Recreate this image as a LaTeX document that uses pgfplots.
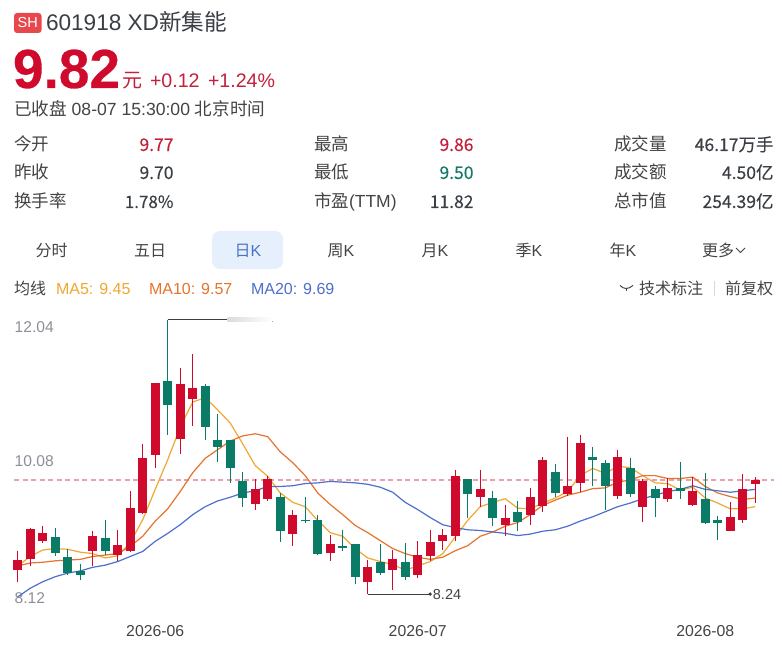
\documentclass[border=0pt]{standalone}
\usepackage{fontspec}
\usepackage{pgfplots}
\usepackage{pgfplotstable}
\pgfplotsset{compat=1.18}
\setmainfont{Liberation Sans}
\newfontfamily\cjk{Noto Sans CJK SC}
\newfontfamily\cjkm[FakeBold=0.25]{Noto Sans CJK SC}
\newfontfamily\bigb[FakeBold=0.5]{Liberation Sans Bold}
\definecolor{cred}{HTML}{CF0A2C}
\definecolor{cgreen}{HTML}{0A7B67}
\definecolor{tred}{HTML}{C4203C}
\definecolor{tgreen}{HTML}{167A68}
\definecolor{dark}{HTML}{3A3F45}
\definecolor{mid}{HTML}{444444}
\definecolor{axisgray}{HTML}{8E8E98}
\definecolor{mafive}{HTML}{F0A832}
\definecolor{maten}{HTML}{E6742C}
\definecolor{matwenty}{HTML}{4D70CC}
\definecolor{tabbg}{HTML}{E6F0FC}
\definecolor{tabfg}{HTML}{4A74C9}
\definecolor{dashc}{HTML}{EC9FAC}
\definecolor{badge}{HTML}{E8484C}
\pgfplotsset{candle/.style 2 args={draw=none,no markers,forget plot,error bars/.cd,y dir=minus,y explicit,error mark=none,error bar style={solid,draw=#1,line width=#2}}}
\pgfplotstableread{
x top bot high low
0 8.71 8.57 8.84 8.41
1 9.14 8.73 9.16 8.63
2 9.09 8.98 9.18 8.95
6 9.04 8.83 9.11 8.63
8 8.92 8.78 9.13 8.70
9 9.43 8.83 9.67 8.82
10 10.13 9.36 10.32 9.35
11 11.16 10.17 11.16 9.99
13 11.15 10.39 11.37 10.18
14 11.10 10.94 11.56 10.57
19 9.70 9.49 9.83 9.41
20 9.83 9.55 9.87 9.53
22 9.33 9.07 9.40 8.90
25 8.94 8.81 9.06 8.70
28 8.62 8.40 8.71 8.24
30 8.73 8.57 8.85 8.29
32 8.78 8.50 8.97 8.46
33 8.96 8.76 9.13 8.70
34 9.06 8.98 9.14 8.85
35 9.88 9.04 9.96 8.97
37 9.70 9.59 9.96 9.44
39 9.29 9.20 9.48 9.05
41 9.58 9.34 9.71 9.20
42 10.09 9.46 10.14 9.38
44 9.74 9.62 10.42 9.60
45 10.33 9.78 10.44 9.66
48 10.14 9.60 10.24 9.56
50 9.80 9.44 9.84 9.24
52 9.71 9.55 9.85 9.51
54 9.67 9.48 9.86 9.46
57 9.31 9.12 9.52 9.11
58 9.70 9.27 9.90 9.22
59 9.82 9.77 9.86 9.50
}\redcandles
\pgfplotstableread{
x top bot high low
3 9.03 8.81 9.16 8.77
4 8.75 8.53 8.86 8.50
5 8.56 8.51 8.66 8.43
7 9.02 8.83 9.27 8.78
12 11.19 10.86 12.04 10.44
15 11.12 10.55 11.15 10.38
16 10.37 10.28 10.73 10.07
17 10.38 9.98 10.38 9.78
18 9.80 9.57 9.93 9.44
21 9.59 9.12 9.64 8.96
23 9.27 9.25 9.59 9.23
24 9.26 8.79 9.33 8.78
26 8.90 8.88 9.13 8.83
27 8.94 8.48 8.94 8.38
29 8.68 8.53 8.94 8.50
31 8.69 8.47 8.95 8.44
36 9.84 9.63 9.84 9.29
38 9.57 9.30 9.67 9.18
40 9.37 9.24 9.53 9.11
43 9.93 9.64 10.04 9.58
46 10.14 10.10 10.28 9.74
47 10.05 9.74 10.10 9.40
49 9.99 9.63 10.13 9.58
51 9.70 9.57 9.73 9.31
53 9.71 9.67 10.07 9.56
55 9.55 9.22 9.92 9.215
56 9.27 9.22 9.32 8.99
}\greencandles
\newcommand\tx[4][base west]{\node[anchor=#1,inner sep=0pt,outer sep=0pt] at ({#2*1pt},{(651-#3)*1pt}) {#4};}
\begin{document}
\begin{tikzpicture}[x=1pt,y=1pt]
\path[use as bounding box] (0,0) rectangle (782pt,651pt);
\fill[white] (0,0) rectangle (782pt,651pt);
\begin{axis}[
  at={(14pt,48.3pt)},anchor=south west,
  scale only axis,width=760pt,height=283pt,
  xmin=-0.296,xmax=60.5,ymin=8.12,ymax=12.04,
  clip=false,
  axis line style={draw=none},
  tick style={draw=none},
  major tick length=0pt,
  xtick={11,32,55},
  xticklabels={2026-06,2026-07,2026-08},
  x tick label style={font=\fontsize{15.8}{16}\selectfont,text=mid,anchor=base,yshift=-34pt,inner sep=0pt},
  ytick={8.12,10.08,12.04},
  yticklabels={\raisebox{-1pt}{8.12},\raisebox{-5pt}{10.08},\raisebox{-13pt}{12.04}},
  y tick label style={font=\fontsize{15.6}{16}\selectfont,text=axisgray,anchor=base west,inner sep=0pt,xshift=0.5pt},
]
\addplot[dashc,line width=1.1pt,dash pattern=on 5pt off 3.5pt,forget plot] coordinates {(-0.296,9.82) (60.5,9.82)};
\addplot[mafive,line width=1.2pt,forget plot] coordinates {
(0,8.63)(1,8.76)(2,8.85)(3,8.87)(4,8.86)(5,8.82)(6,8.80)(7,8.74)(8,8.77)(9,8.95)
(10,9.27)(11,9.69)(12,10.10)(13,10.55)(14,10.90)(15,10.96)(16,10.79)(17,10.61)(18,10.32)(19,10.02)
(20,9.87)(21,9.64)(22,9.51)(23,9.45)(24,9.26)(25,9.09)(26,9.04)(27,8.87)(28,8.74)(29,8.69)
(30,8.65)(31,8.57)(32,8.63)(33,8.69)(34,8.80)(35,9.03)(36,9.26)(37,9.45)(38,9.51)(39,9.56)
(40,9.43)(41,9.42)(42,9.50)(43,9.57)(44,9.66)(45,9.88)(46,9.98)(47,9.91)(48,10.01)(49,9.99)
(50,9.88)(51,9.78)(52,9.77)(53,9.68)(54,9.72)(55,9.57)(56,9.50)(57,9.42)(58,9.42)(59,9.45)};
\addplot[maten,line width=1.2pt,forget plot] coordinates {
(0,8.63)(1,8.67)(2,8.68)(3,8.70)(4,8.71)(5,8.72)(6,8.76)(7,8.78)(8,8.80)(9,8.90)
(10,9.04)(11,9.25)(12,9.42)(13,9.66)(14,9.92)(15,10.12)(16,10.24)(17,10.36)(18,10.43)(19,10.46)
(20,10.42)(21,10.21)(22,10.06)(23,9.88)(24,9.64)(25,9.48)(26,9.34)(27,9.19)(28,9.09)(29,8.98)
(30,8.87)(31,8.80)(32,8.75)(33,8.72)(34,8.75)(35,8.84)(36,8.91)(37,9.04)(38,9.10)(39,9.18)
(40,9.23)(41,9.34)(42,9.47)(43,9.54)(44,9.61)(45,9.65)(46,9.70)(47,9.71)(48,9.79)(49,9.82)
(50,9.88)(51,9.88)(52,9.84)(53,9.84)(54,9.86)(55,9.73)(56,9.64)(57,9.59)(58,9.55)(59,9.57)};
\addplot[matwenty,line width=1.2pt,forget plot] coordinates {
(0,8.20)(1,8.32)(2,8.41)(3,8.48)(4,8.53)(5,8.56)(6,8.61)(7,8.64)(8,8.69)(9,8.76)
(10,8.83)(11,8.97)(12,9.08)(13,9.20)(14,9.34)(15,9.45)(16,9.53)(17,9.58)(18,9.64)(19,9.67)
(20,9.73)(21,9.73)(22,9.74)(23,9.77)(24,9.78)(25,9.80)(26,9.79)(27,9.78)(28,9.76)(29,9.72)
(30,9.65)(31,9.51)(32,9.41)(33,9.30)(34,9.20)(35,9.16)(36,9.13)(37,9.12)(38,9.10)(39,9.08)
(40,9.05)(41,9.07)(42,9.11)(43,9.13)(44,9.18)(45,9.25)(46,9.31)(47,9.38)(48,9.45)(49,9.50)
(50,9.56)(51,9.61)(52,9.66)(53,9.69)(54,9.74)(55,9.69)(56,9.67)(57,9.65)(58,9.67)(59,9.69)};
% wicks
\addplot[candle={cred}{1.3pt}]
  table[x=x,y=high,y error minus expr=\thisrow{high}-\thisrow{low}] {\redcandles};
\addplot[candle={cgreen}{1.3pt}]
  table[x=x,y=high,y error minus expr=\thisrow{high}-\thisrow{low}] {\greencandles};
% bodies
\addplot[candle={cred}{8.6pt}]
  table[x=x,y=top,y error minus expr=\thisrow{top}-\thisrow{bot}] {\redcandles};
\addplot[candle={cgreen}{8.6pt}]
  table[x=x,y=top,y error minus expr=\thisrow{top}-\thisrow{bot}] {\greencandles};
% annotations
\draw[dark,line width=1pt] (axis cs:12,12.04) -- (axis cs:16.8,12.04);
\fill[left color=black!14,right color=white,draw=none] (axis cs:16.8,12.065) rectangle (axis cs:20.4,12.01);
\draw[dark,line width=1pt] (axis cs:28,8.24) -- (axis cs:33,8.24);
\fill[dark] (axis cs:33,8.24) circle (1.8pt);
\node[anchor=west,inner sep=0pt,text=mid,font=\fontsize{14.5}{15}\selectfont] at ([xshift=2.5pt]axis cs:33,8.24) {8.24};
\end{axis}
% header
\fill[rounded corners=3pt,fill=badge] (14pt,{(651-13)*1pt}) rectangle (41.5pt,{(651-33)*1pt});
\tx[base]{27.7}{28}{\color{white}\fontsize{14.5}{15}\selectfont SH}
\tx{46}{31}{\color{dark}\fontsize{22.6}{23}\selectfont 601918 XD{\cjk 新集能}}
\tx{13}{88}{\color{cred}\fontsize{55}{55}\selectfont\bigb 9.82}
\tx{122}{88}{\color{tred}\fontsize{20}{20}\selectfont\cjk 元}
\tx{150}{88}{\color{tred}\fontsize{19.6}{20}\selectfont +0.12}
\tx{208}{88}{\color{tred}\fontsize{19.6}{20}\selectfont +1.24\%}
\tx{14}{116}{\color{mid}\fontsize{17.6}{18}\selectfont{\cjk 已收盘} 08-07 15:30:00 {\cjk 北京时间}}
% stats
\tx{14}{151}{\color{mid}\fontsize{17.5}{18}\selectfont\cjk 今开}
\tx{14}{179}{\color{mid}\fontsize{17.5}{18}\selectfont\cjk 昨收}
\tx{14}{208}{\color{mid}\fontsize{17.5}{18}\selectfont\cjk 换手率}
\tx[base east]{173.5}{151}{\color{tred}\fontsize{17.5}{18}\selectfont\cjkm 9.77}
\tx[base east]{173.5}{179}{\color{dark}\fontsize{17.5}{18}\selectfont\cjkm 9.70}
\tx[base east]{173.5}{208}{\color{dark}\fontsize{17}{18}\selectfont\cjkm 1.78\%}
\tx{314}{151}{\color{mid}\fontsize{17.5}{18}\selectfont\cjk 最高}
\tx{314}{179}{\color{mid}\fontsize{17.5}{18}\selectfont\cjk 最低}
\tx{314}{208}{\color{mid}\fontsize{17.5}{18}\selectfont{\cjk 市盈}(TTM)}
\tx[base east]{473.5}{151}{\color{tred}\fontsize{17.5}{18}\selectfont\cjkm 9.86}
\tx[base east]{473.5}{179}{\color{tgreen}\fontsize{17.5}{18}\selectfont\cjkm 9.50}
\tx[base east]{473.5}{208}{\color{dark}\fontsize{17.5}{18}\selectfont\cjkm 11.82}
\tx{614}{151}{\color{mid}\fontsize{17.5}{18}\selectfont\cjk 成交量}
\tx{614}{179}{\color{mid}\fontsize{17.5}{18}\selectfont\cjk 成交额}
\tx{614}{208}{\color{mid}\fontsize{17.5}{18}\selectfont\cjk 总市值}
\tx[base east]{773.5}{151}{\color{dark}\fontsize{17.5}{18}\selectfont\cjkm 46.17万手}
\tx[base east]{773.5}{179}{\color{dark}\fontsize{17.5}{18}\selectfont\cjkm 4.50亿}
\tx[base east]{773.5}{208}{\color{dark}\fontsize{17.5}{18}\selectfont\cjkm 254.39亿}
% tabs
\fill[tabbg,rounded corners=8pt] (212pt,{(651-231)*1pt}) rectangle (283pt,{(651-269)*1pt});
\tx[base]{51.5}{257}{\color{mid}\fontsize{16}{16}\selectfont\cjk 分时}
\tx[base]{150}{257}{\color{mid}\fontsize{16}{16}\selectfont\cjk 五日}
\tx[base]{248}{257}{\color{tabfg}\fontsize{16}{16}\selectfont{\cjk 日}K}
\tx[base]{341}{257}{\color{mid}\fontsize{16}{16}\selectfont{\cjk 周}K}
\tx[base]{435}{257}{\color{mid}\fontsize{16}{16}\selectfont{\cjk 月}K}
\tx[base]{529}{257}{\color{mid}\fontsize{16}{16}\selectfont{\cjk 季}K}
\tx[base]{623}{257}{\color{mid}\fontsize{16}{16}\selectfont{\cjk 年}K}
\tx{702}{257}{\color{mid}\fontsize{16}{16}\selectfont\cjk 更多}
\draw[mid,line width=0.8pt] (736pt,{(651-248)*1pt}) -- (740.5pt,{(651-252.5)*1pt}) -- (745pt,{(651-248)*1pt});
% MA row
\tx{14}{295}{\color{mid}\fontsize{16}{16}\selectfont\cjk 均线}
\tx{56}{295}{\color{mafive}\fontsize{16}{16}\selectfont MA5: 9.45}
\tx{149}{295}{\color{maten}\fontsize{16}{16}\selectfont MA10: 9.57}
\tx{251}{295}{\color{matwenty}\fontsize{16}{16}\selectfont MA20: 9.69}
\draw[mid,line width=1pt] (620pt,{(651-285.5)*1pt}) .. controls (624pt,{(651-289.5)*1pt}) and (628pt,{(651-289.5)*1pt}) .. (633pt,{(651-285.5)*1pt});
\draw[mid,line width=1pt] (626.5pt,{(651-288.5)*1pt}) -- (626.5pt,{(651-291.5)*1pt});
\tx{639}{295}{\color{mid}\fontsize{16}{16}\selectfont\cjk 技术标注}
\draw[black!15,line width=0.6pt] (714pt,{(651-281)*1pt}) -- (714pt,{(651-296)*1pt});
\tx{725}{295}{\color{mid}\fontsize{16}{16}\selectfont\cjk 前复权}
\end{tikzpicture}
\end{document}
